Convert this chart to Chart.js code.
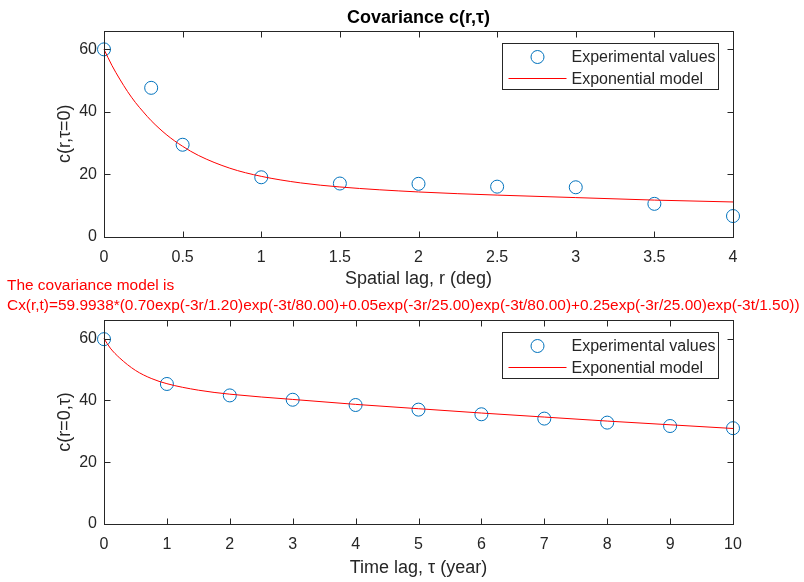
<!DOCTYPE html>
<html>
<head>
<meta charset="utf-8">
<script src="https://cdn.jsdelivr.net/npm/chart.js@4.4.1/dist/chart.umd.min.js"></script>
<style>
  html, body { margin: 0; padding: 0; background: #fff; }
  body { width: 804px; height: 582px; position: relative; overflow: hidden; font-family: "Liberation Sans", Arial, sans-serif; }
  #topBox { position: absolute; left: 0; top: 0; width: 804px; height: 290px; }
  #botBox { position: absolute; left: 0; top: 290px; width: 804px; height: 292px; }
  #note { position: absolute; left: 7px; top: 275px; color: #ff0000; font-size: 14px; line-height: 20px; white-space: nowrap; z-index: 2; }
  #note span { display: inline-block; }
</style>
</head>
<body>
<div id="topBox"><canvas id="topChart"></canvas></div>
<div id="botBox"><canvas id="botChart"></canvas></div>
<div id="note"><div>The covariance model is</div><div><span id="formula">Cx(r,t)=59.9938*(0.70exp(-3r/1.20)exp(-3t/80.00)+0.05exp(-3r/25.00)exp(-3t/80.00)+0.25exp(-3r/25.00)exp(-3t/1.50))</span></div></div>

<script>
// spatial covariance (tau = 0)
const rExp = [0, 0.3, 0.5, 1, 1.5, 2, 2.5, 3, 3.5, 4];
const cExpR = [60, 47.7, 29.5, 19.1, 17.1, 17.0, 16.1, 15.9, 10.6, 6.7];
const rModel = [0, 0.05, 0.1, 0.15, 0.2, 0.25, 0.3, 0.4, 0.5, 0.6, 0.8, 1, 1.25, 1.5, 2, 2.5, 3, 3.5, 4];
const cModelR = [60, 54.9, 50.5, 46.5, 43.0, 40.0, 37.2, 32.6, 29.0, 26.1, 22.0, 19.4, 17.3, 16.0, 14.4, 13.4, 12.6, 11.8, 11.2];
const rTicks = [0, 0.5, 1, 1.5, 2, 2.5, 3, 3.5, 4];

// temporal covariance (r = 0)
const tExp = [0, 1, 2, 3, 4, 5, 6, 7, 8, 9, 10];
const cExpT = [59.8, 45.3, 41.6, 40.2, 38.5, 37.0, 35.5, 34.1, 32.8, 31.7, 31.0];
const tModel = [0, 0.1, 0.25, 0.5, 0.75, 1, 1.5, 2, 3, 4, 5, 6, 7, 8, 9, 10];
const cModelT = [60, 56.9, 53.7, 49.7, 47.1, 45.4, 43.3, 42.0, 40.3, 38.7, 37.3, 35.9, 34.6, 33.3, 32.1, 30.9];
const tTicks = [0, 1, 2, 3, 4, 5, 6, 7, 8, 9, 10];

const cTicks = [0, 20, 40, 60];
const legendLabels = ["Experimental values", "Exponential model"];

const FONT = "'Liberation Sans', Arial, sans-serif";
const AX = "#262626", BLUE = "#0072BD", RED = "#ff0000";
const TICK = 6;

const pts = (xs, ys) => xs.map((v, i) => ({ x: v, y: ys[i] }));

// box round the axes, ticks pointing inwards on all four sides
const axesBox = {
  id: "axesBox",
  afterDatasetsDraw(chart) {
    const { ctx, chartArea: a, scales: { x, y } } = chart;
    const L = Math.round(a.left) + 0.5, R = Math.round(a.right) + 0.5;
    const T = Math.round(a.top) + 0.5, B = Math.round(a.bottom) + 0.5;
    ctx.save();
    ctx.strokeStyle = AX; ctx.lineWidth = 1;
    ctx.strokeRect(L, T, R - L, B - T);
    ctx.beginPath();
    x.ticks.forEach(t => {
      const px = Math.round(x.getPixelForValue(t.value)) + 0.5;
      ctx.moveTo(px, B); ctx.lineTo(px, B - TICK);
      ctx.moveTo(px, T); ctx.lineTo(px, T + TICK);
    });
    y.ticks.forEach(t => {
      const py = Math.round(y.getPixelForValue(t.value)) + 0.5;
      ctx.moveTo(L, py); ctx.lineTo(L + TICK, py);
      ctx.moveTo(R, py); ctx.lineTo(R - TICK, py);
    });
    ctx.stroke();
    ctx.restore();
  }
};

// matlab-like legend box in the upper right corner
const boxLegend = {
  id: "boxLegend",
  afterDraw(chart) {
    const { ctx, chartArea: a } = chart;
    const w = 216, h = 46;
    const left = Math.round(a.right - 15 - w) + 0.5, top = Math.round(a.top + 12) + 0.5;
    ctx.save();
    ctx.fillStyle = "#fff"; ctx.strokeStyle = AX; ctx.lineWidth = 1;
    ctx.fillRect(left, top, w, h);
    ctx.strokeRect(left, top, w, h);
    const y1 = top + 13.5, y2 = top + 35;
    ctx.strokeStyle = BLUE;
    ctx.beginPath(); ctx.arc(left + 35, y1, 6.5, 0, Math.PI * 2); ctx.stroke();
    ctx.strokeStyle = RED;
    ctx.beginPath(); ctx.moveTo(left + 6, y2); ctx.lineTo(left + 64, y2); ctx.stroke();
    ctx.fillStyle = AX; ctx.font = "16px " + FONT; ctx.textBaseline = "middle";
    ctx.fillText(legendLabels[0], left + 69, y1 + 1);
    ctx.fillText(legendLabels[1], left + 69, y2 + 1);
    ctx.restore();
  }
};

function makeChart(id, cfg) {
  return new Chart(document.getElementById(id), {
    type: "scatter",
    data: {
      datasets: [
        { label: legendLabels[1], data: pts(cfg.mx, cfg.my), showLine: true, borderColor: RED, borderWidth: 1,
          pointRadius: 0, cubicInterpolationMode: "monotone", fill: false, clip: false },
        { label: legendLabels[0], data: pts(cfg.ex, cfg.ey), showLine: false, pointStyle: "circle", pointRadius: 6.5,
          borderColor: BLUE, borderWidth: 1, backgroundColor: "rgba(0,0,0,0)", clip: false }
      ]
    },
    options: {
      responsive: true,
      maintainAspectRatio: false,
      animation: false,
      layout: { padding: { left: 0, right: 71, top: cfg.padTop, bottom: 0 } },
      plugins: {
        legend: { display: false },
        tooltip: { enabled: false },
        title: cfg.title ? {
          display: true, text: cfg.title, fullSize: false, color: "#000",
          font: { family: FONT, size: 18, weight: "bold" }, padding: { top: 7, bottom: 2 }
        } : { display: false }
      },
      scales: {
        x: {
          type: "linear", min: cfg.xMin, max: cfg.xMax,
          grid: { display: false, drawTicks: false }, border: { display: false },
          afterBuildTicks: s => { s.ticks = cfg.xTicks.map(v => ({ value: v })); },
          afterFit: s => { s.height = cfg.xH; },
          ticks: { color: AX, font: { family: FONT, size: 16 }, padding: 11, maxRotation: 0, callback: v => String(v) },
          title: { display: true, text: cfg.xTitle, color: AX, font: { family: FONT, size: 18 }, padding: { top: 0, bottom: cfg.xTitlePad } }
        },
        y: {
          type: "linear", min: 0, max: 66,
          grid: { display: false, drawTicks: false }, border: { display: false },
          afterBuildTicks: s => { s.ticks = cTicks.map(v => ({ value: v })); },
          afterFit: s => { s.width = 104; },
          ticks: { color: AX, font: { family: FONT, size: 16 }, padding: 7, callback: v => String(v) },
          title: { display: true, text: cfg.yTitle, color: AX, font: { family: FONT, size: 18 }, padding: { top: 54, bottom: 0 } }
        }
      }
    },
    plugins: [axesBox, boxLegend]
  });
}

makeChart("topChart", {
  mx: rModel, my: cModelR, ex: rExp, ey: cExpR,
  xMin: 0, xMax: 4, xTicks: rTicks, xH: 53, xTitlePad: 0,
  xTitle: "Spatial lag, r (deg)", yTitle: "c(r,\u03C4=0)",
  title: "Covariance c(r,\u03C4)", padTop: 0
});

makeChart("botChart", {
  mx: tModel, my: cModelT, ex: tExp, ey: cExpT,
  xMin: 0, xMax: 10, xTicks: tTicks, xH: 58, xTitlePad: 3,
  xTitle: "Time lag, \u03C4 (year)", yTitle: "c(r=0,\u03C4)",
  title: null, padTop: 30
});

// stretch the red formula line to the width it has in the figure
const formula = document.getElementById("formula");
const note = document.getElementById("note");
const w = formula.getBoundingClientRect().width;
note.style.fontSize = (14 * 793 / w).toFixed(2) + "px";
</script>
</body>
</html>
